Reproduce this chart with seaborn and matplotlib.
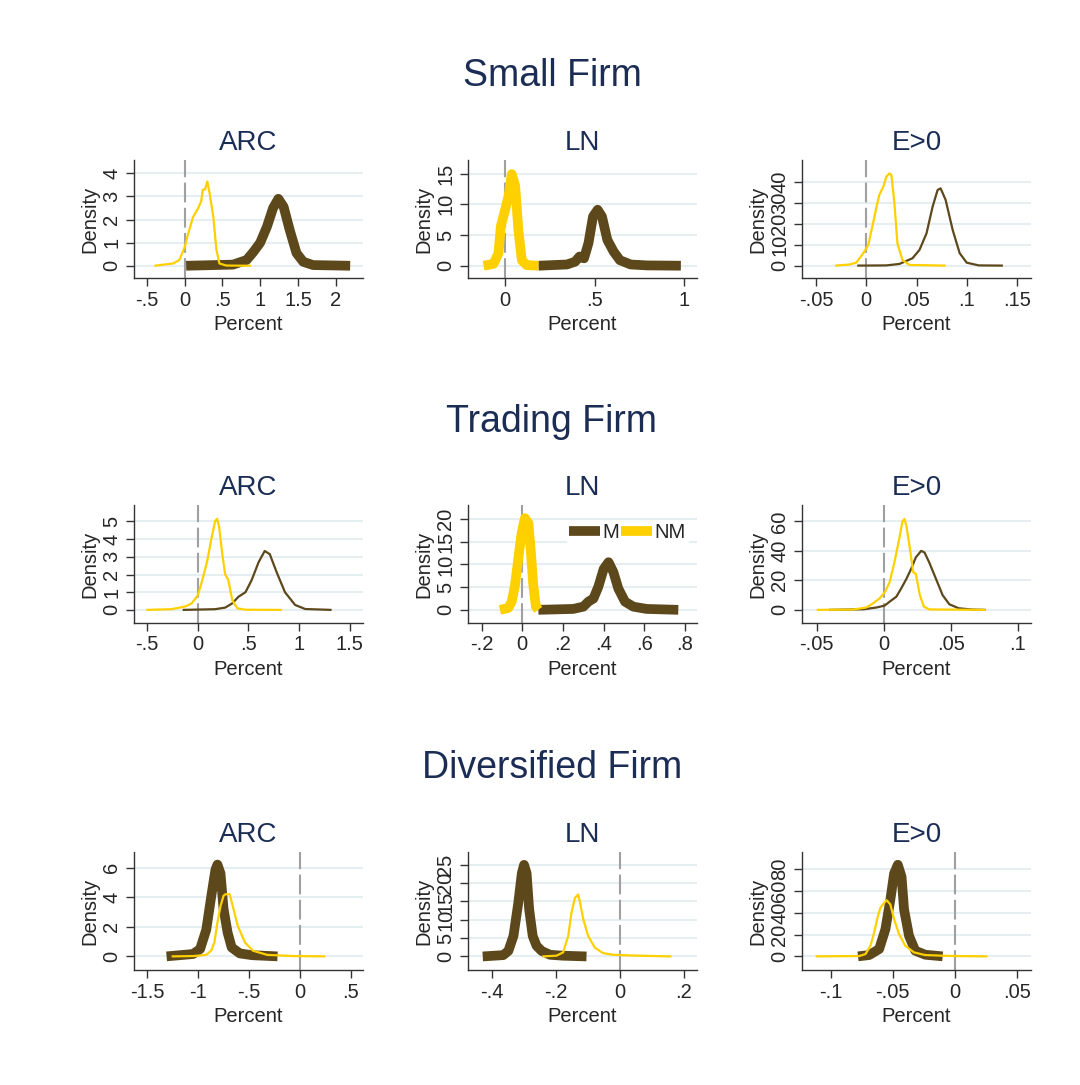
import numpy as np
import pandas as pd
from matplotlib import pyplot as plt
import seaborn as sns

# --- values --------------------------------------------------------------
firm_groups = ["Small Firm", "Trading Firm", "Diversified Firm"]
measures = ["ARC", "LN", "E>0"]
series_names = ["M", "NM"]

# Small firm
small_arc_m_x = [0.02, 0.64, 0.82, 0.91, 1.0, 1.09, 1.17, 1.24, 1.31, 1.39, 1.48, 1.57, 1.70, 2.19]
small_arc_m_y = [0, 0.05, 0.25, 0.6, 1.0, 1.7, 2.5, 2.9, 2.55, 1.55, 0.55, 0.17, 0.03, 0]
small_arc_nm_x = [-0.40, -0.15, -0.07, 0.0, 0.04, 0.11, 0.18, 0.22, 0.24, 0.27, 0.30, 0.33, 0.38, 0.42, 0.46, 0.55, 0.88]
small_arc_nm_y = [0, 0.1, 0.25, 0.8, 1.3, 2.1, 2.5, 2.8, 3.3, 3.3, 3.65, 3.15, 2.1, 0.7, 0.1, 0.01, 0]
small_ln_m_x = [0.186, 0.345, 0.39, 0.415, 0.44, 0.465, 0.49, 0.516, 0.54, 0.57, 0.605, 0.64, 0.70, 0.79, 0.98]
small_ln_m_y = [0, 0.2, 0.65, 1.5, 1.2, 3.7, 8.0, 9.1, 8.0, 4.2, 2.3, 0.9, 0.2, 0.05, 0]
small_ln_nm_x = [-0.12, -0.065, -0.037, -0.024, 0.0, 0.019, 0.037, 0.056, 0.074, 0.093, 0.12, 0.186]
small_ln_nm_y = [0, 0.3, 2, 6.4, 9.1, 11.3, 14.9, 13, 5.8, 0.9, 0.1, 0]
small_e_m_x = [-0.009, 0.020, 0.033, 0.046, 0.053, 0.060, 0.066, 0.071, 0.074, 0.079, 0.086, 0.093, 0.100, 0.112, 0.136]
small_e_m_y = [0, 0.1, 0.8, 3.5, 7.5, 15.4, 28, 36, 36.8, 31.3, 17, 5.9, 1.4, 0.1, 0]
small_e_nm_x = [-0.031, -0.017, -0.010, -0.003, 0.002, 0.006, 0.011, 0.013, 0.017, 0.020, 0.023, 0.025, 0.028, 0.031, 0.036, 0.043, 0.079]
small_e_nm_y = [0, 0.5, 1.4, 5.9, 9.8, 18.6, 29.7, 33.7, 37.6, 42.4, 43.9, 43.2, 29.7, 10.6, 2.7, 0.3, 0]

# Trading firm
trade_arc_m_x = [-0.15, 0.17, 0.27, 0.34, 0.40, 0.47, 0.53, 0.60, 0.66, 0.71, 0.78, 0.86, 0.96, 1.06, 1.32]
trade_arc_m_y = [0, 0.04, 0.13, 0.37, 0.74, 1.0, 1.67, 2.7, 3.33, 3.15, 2.1, 1.0, 0.28, 0.05, 0]
trade_arc_nm_x = [-0.51, -0.26, -0.12, -0.06, 0.0, 0.04, 0.09, 0.14, 0.17, 0.19, 0.21, 0.24, 0.27, 0.30, 0.34, 0.39, 0.47, 0.83]
trade_arc_nm_y = [0, 0.04, 0.2, 0.37, 0.83, 1.6, 2.7, 4.2, 5.0, 5.15, 4.7, 3.2, 2.0, 1.7, 0.55, 0.09, 0.01, 0]
trade_ln_m_x = [0.079, 0.25, 0.30, 0.325, 0.35, 0.374, 0.40, 0.424, 0.448, 0.472, 0.505, 0.546, 0.611, 0.767]
trade_ln_m_y = [0, 0.2, 0.7, 1.8, 2.5, 5.1, 9.0, 10.5, 8.3, 4.7, 1.8, 0.7, 0.2, 0]
trade_ln_nm_x = [-0.11, -0.069, -0.052, -0.036, -0.02, -0.003, 0.013, 0.03, 0.041, 0.054, 0.067, 0.079]
trade_ln_nm_y = [0, 0.4, 1.8, 5.4, 11.2, 17, 20.2, 19.1, 13.4, 5.4, 0.7, 0]
trade_e_m_x = [-0.041, -0.015, -0.0054, 0.0007, 0.0045, 0.0094, 0.013, 0.017, 0.0205, 0.024, 0.028, 0.0305,
               0.034, 0.039, 0.044, 0.049, 0.056, 0.066, 0.076]
trade_e_m_y = [0, 0.4, 1.6, 2.9, 5.6, 8.9, 14.4, 21.1, 27.8, 35.6, 40, 38.9, 32.2, 21.1, 10, 3.8, 1.1, 0.2, 0]
trade_e_nm_x = [-0.05, -0.023, -0.013, -0.008, -0.003, 0.001, 0.0045, 0.008, 0.012, 0.014, 0.0156, 0.017,
                0.020, 0.022, 0.024, 0.027, 0.030, 0.034, 0.076]
trade_e_nm_y = [0, 0.2, 1.6, 4.4, 7.8, 12.2, 18.9, 32.2, 50, 60, 61.6, 56.7, 38.9, 25.6, 24.4, 10, 2.2, 0.3, 0]

# Diversified firm
div_arc_m_x = [-1.31, -1.05, -0.98, -0.92, -0.87, -0.83, -0.81, -0.78, -0.75, -0.71, -0.67, -0.59, -0.47, -0.22]
div_arc_m_y = [0, 0.16, 0.5, 1.8, 4.1, 5.85, 6.2, 5.6, 3.2, 1.6, 0.6, 0.2, 0.08, 0]
div_arc_nm_x = [-1.26, -1.05, -0.92, -0.87, -0.84, -0.81, -0.78, -0.75, -0.73, -0.69, -0.66, -0.61, -0.54,
                -0.46, -0.32, -0.06, 0.25]
div_arc_nm_y = [0, 0.02, 0.1, 0.4, 0.94, 2.3, 3.4, 4.1, 4.2, 4.2, 3.4, 2.05, 0.94, 0.38, 0.1, 0.02, 0]
div_ln_m_x = [-0.428, -0.364, -0.348, -0.332, -0.317, -0.306, -0.299, -0.291, -0.283, -0.272, -0.26, -0.244,
              -0.218, -0.177, -0.104]
div_ln_m_y = [0, 0.36, 1.5, 5.6, 14.6, 22.7, 25, 22.7, 12.8, 5.6, 2.9, 1.5, 0.45, 0.2, 0]
div_ln_nm_x = [-0.242, -0.198, -0.177, -0.161, -0.151, -0.14, -0.13, -0.125, -0.114, -0.099, -0.078, -0.052,
               -0.021, 0.031, 0.161]
div_ln_nm_y = [0, 0.2, 1.1, 5.6, 11.9, 16, 16.9, 15.1, 10.1, 5.6, 2.4, 0.9, 0.45, 0.27, 0]
div_e_m_x = [-0.078, -0.069, -0.061, -0.056, -0.052, -0.049, -0.046, -0.043, -0.041, -0.037, -0.032, -0.024, -0.010]
div_e_m_y = [0, 1.2, 6.7, 24.8, 52, 76, 84, 73, 43, 18.8, 5.2, 1.5, 0]
div_e_nm_x = [-0.112, -0.077, -0.072, -0.068, -0.065, -0.062, -0.060, -0.057, -0.055, -0.052, -0.049, -0.045,
              -0.040, -0.033, -0.024, -0.002, 0.026]
div_e_nm_y = [0, 0.3, 2.1, 9.7, 21.8, 37, 44.5, 49, 51.5, 47.6, 34, 20.3, 9.7, 3.6, 1.2, 0.3, 0]

# tick values per panel (row, col)
x_ticks = [
    [[-0.5, 0, 0.5, 1, 1.5, 2], [0, 0.5, 1], [-0.05, 0, 0.05, 0.1, 0.15]],
    [[-0.5, 0, 0.5, 1, 1.5], [-0.2, 0, 0.2, 0.4, 0.6, 0.8], [-0.05, 0, 0.05, 0.1]],
    [[-1.5, -1, -0.5, 0, 0.5], [-0.4, -0.2, 0, 0.2], [-0.1, -0.05, 0, 0.05]],
]
y_ticks = [
    [[0, 1, 2, 3, 4], [0, 5, 10, 15], [0, 10, 20, 30, 40]],
    [[0, 1, 2, 3, 4, 5], [0, 5, 10, 15, 20], [0, 20, 40, 60]],
    [[0, 2, 4, 6], [0, 5, 10, 15, 20, 25], [0, 20, 40, 60, 80]],
]

curves = [
    [(small_arc_m_x, small_arc_m_y, small_arc_nm_x, small_arc_nm_y),
     (small_ln_m_x, small_ln_m_y, small_ln_nm_x, small_ln_nm_y),
     (small_e_m_x, small_e_m_y, small_e_nm_x, small_e_nm_y)],
    [(trade_arc_m_x, trade_arc_m_y, trade_arc_nm_x, trade_arc_nm_y),
     (trade_ln_m_x, trade_ln_m_y, trade_ln_nm_x, trade_ln_nm_y),
     (trade_e_m_x, trade_e_m_y, trade_e_nm_x, trade_e_nm_y)],
    [(div_arc_m_x, div_arc_m_y, div_arc_nm_x, div_arc_nm_y),
     (div_ln_m_x, div_ln_m_y, div_ln_nm_x, div_ln_nm_y),
     (div_e_m_x, div_e_m_y, div_e_nm_x, div_e_nm_y)],
]

# --- styling / layout ----------------------------------------------------
M_COLOR = "#5c481b"
NM_COLOR = "#ffd000"
TITLE_COLOR = "#1c2d55"
THICK, THIN = 7.0, 1.6

# line width of (M, NM) per panel
widths = [
    [(THICK, THIN), (THICK, THICK), (THIN, THIN)],
    [(THIN, THIN), (THICK, THICK), (THIN, THIN)],
    [(THICK, THIN), (THICK, THIN), (THICK, THIN)],
]
# axis ranges, chosen to match the padded Stata plot regions
x_lims = [
    [(-0.67, 2.36), (-0.207, 1.07), (-0.064, 0.164)],
    [(-0.63, 1.63), (-0.267, 0.859), (-0.061, 0.110)],
    [(-1.63, 0.62), (-0.474, 0.241), (-0.123, 0.061)],
]
y_lims = [
    [(-0.53, 4.58), (-2.0, 17.2), (-5.9, 50.3)],
    [(-0.74, 5.93), (-2.9, 23.1), (-8.9, 71.1)],
    [(-0.92, 7.05), (-3.7, 28.5), (-12.5, 95.7)],
]

W, H = 1080, 1085
col_left = [134, 468, 802]
row_top = [160, 505, 852]
ax_w, ax_h = 229, 118
row_title_y = [76, 422, 768]


def stata_fmt(v):
    s = f"{v:g}"
    if s.startswith("0."):
        s = s[1:]
    elif s.startswith("-0."):
        s = "-" + s[2:]
    return s


sns.set_style("white")
plt.rcParams['font.family'] = ['Liberation Sans', 'DejaVu Sans']

fig = plt.figure(figsize=(W / 100, H / 100), dpi=100)

for r, group in enumerate(firm_groups):
    fig.text(552 / W, 1 - row_title_y[r] / H, group, ha='center', va='center',
             fontsize=27, color=TITLE_COLOR)
    for c, meas in enumerate(measures):
        ax = fig.add_axes([col_left[c] / W, 1 - (row_top[r] + ax_h) / H, ax_w / W, ax_h / H])
        mx, my, nx, ny = curves[r][c]
        wm, wn = widths[r][c]

        ax.set_axisbelow(True)
        ax.grid(axis='y', color='#e6eef1', lw=1.5)
        ax.grid(axis='x', visible=False)
        ax.axvline(0, color='#a0a0a0', lw=1.5, dashes=(9.5, 2.6), zorder=1)

        sns.lineplot(x=mx, y=my, ax=ax, color=M_COLOR, lw=wm, sort=False,
                     estimator=None, label=series_names[0], zorder=3)
        sns.lineplot(x=nx, y=ny, ax=ax, color=NM_COLOR, lw=wn, sort=False,
                     estimator=None, label=series_names[1], zorder=4)
        for ln in ax.lines[1:]:
            ln.set_solid_capstyle('butt')
            ln.set_solid_joinstyle('round')

        ax.set_xlim(*x_lims[r][c])
        ax.set_ylim(*y_lims[r][c])
        ax.set_xticks(x_ticks[r][c])
        ax.set_xticklabels([stata_fmt(v) for v in x_ticks[r][c]])
        ax.set_yticks(y_ticks[r][c])
        ax.set_yticklabels([stata_fmt(v) for v in y_ticks[r][c]], rotation=90, va='center')
        ax.tick_params(axis='both', length=6, width=1, color='#333333', labelsize=14.5,
                       direction='out', left=True, bottom=True, pad=3)

        for side in ['top', 'right']:
            ax.spines[side].set_visible(False)
        for side in ['left', 'bottom']:
            ax.spines[side].set_color('#333333')
            ax.spines[side].set_linewidth(1.0)

        ax.set_xlabel("Percent", fontsize=14.5, labelpad=4)
        ax.set_ylabel("Density", fontsize=14.5, labelpad=2)
        ax.set_title(meas, fontsize=20, color=TITLE_COLOR, pad=7)

        if r == 1 and c == 1:
            leg = ax.legend(loc='center right', bbox_to_anchor=(0.96, 0.77), ncol=2,
                            frameon=True, facecolor='white', edgecolor='white', framealpha=1,
                            fontsize=14.5, handlelength=1.5, handletextpad=0.15,
                            columnspacing=0.1, borderpad=0.1, borderaxespad=0)
            for h in leg.get_lines():
                h.set_linewidth(THICK)
                h.set_solid_capstyle('butt')
        else:
            ax.get_legend().remove()

fig.savefig("out.png", dpi=100, facecolor='white')
